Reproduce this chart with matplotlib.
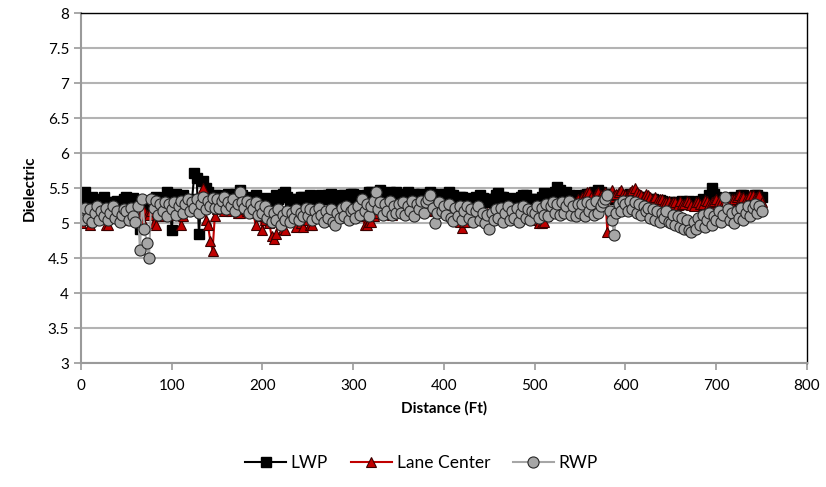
import numpy as np
import matplotlib
matplotlib.use("Agg")
import matplotlib.pyplot as plt
from matplotlib.ticker import FormatStrFormatter

plt.rcParams['font.family'] = ['Lato', 'DejaVu Sans']

# readings every 2.5 ft, 0 .. 750 ft
dist = np.arange(0, 752.5, 2.5)

lwp = [5.40, 5.32, 5.45, 5.28, 5.30, 5.38, 5.35, 5.25, 5.25, 5.33, 5.38, 5.28, 5.30, 5.20, 5.22, 5.30, 5.32, 5.26, 5.28, 5.35,
       5.38, 5.30, 5.30, 5.36, 5.20, 5.28, 4.92, 5.30, 5.25, 5.32, 5.30, 5.25, 5.35, 5.38, 5.28, 5.22, 5.30, 5.35, 5.45, 5.38,
       4.90, 5.30, 5.42, 5.35, 5.35, 5.40, 5.30, 5.28, 5.28, 5.35, 5.72, 5.65, 4.85, 5.30, 5.60, 5.50, 5.45, 5.38, 5.30, 5.40,
       5.40, 5.32, 5.35, 5.30, 5.38, 5.42, 5.30, 5.35, 5.42, 5.38, 5.48, 5.40, 5.30, 5.35, 5.38, 5.32, 5.32, 5.40, 5.35, 5.30,
       5.30, 5.36, 5.25, 5.32, 5.35, 5.30, 5.40, 5.35, 5.38, 5.42, 5.45, 5.38, 5.30, 5.35, 5.35, 5.30, 5.32, 5.38, 5.38, 5.34,
       5.35, 5.40, 5.38, 5.32, 5.30, 5.36, 5.40, 5.35, 5.35, 5.40, 5.42, 5.36, 5.38, 5.32, 5.35, 5.40, 5.40, 5.34, 5.38, 5.42,
       5.42, 5.36, 5.35, 5.40, 5.38, 5.35, 5.40, 5.44, 5.45, 5.38, 5.40, 5.42, 5.47, 5.40, 5.42, 5.38, 5.45, 5.40, 5.40, 5.44,
       5.38, 5.35, 5.42, 5.40, 5.45, 5.38, 5.40, 5.42, 5.38, 5.35, 5.42, 5.40, 5.40, 5.36, 5.45, 5.42, 5.38, 5.40, 5.35, 5.38,
       5.42, 5.38, 5.45, 5.40, 5.40, 5.35, 5.35, 5.38, 5.38, 5.34, 5.32, 5.36, 5.35, 5.30, 5.38, 5.35, 5.40, 5.36, 5.35, 5.32,
       5.30, 5.34, 5.35, 5.40, 5.43, 5.38, 5.38, 5.32, 5.32, 5.36, 5.35, 5.30, 5.30, 5.35, 5.38, 5.40, 5.40, 5.34, 5.35, 5.32,
       5.30, 5.34, 5.35, 5.38, 5.43, 5.38, 5.40, 5.36, 5.42, 5.45, 5.52, 5.48, 5.40, 5.38, 5.45, 5.40, 5.38, 5.35, 5.35, 5.40,
       5.38, 5.35, 5.40, 5.42, 5.42, 5.38, 5.45, 5.40, 5.48, 5.44, 5.40, 5.42, 5.42, 5.38, 5.38, 5.35, 5.35, 5.38, 5.40, 5.36,
       5.38, 5.40, 5.42, 5.38, 5.40, 5.36, 5.35, 5.38, 5.38, 5.34, 5.32, 5.35, 5.35, 5.30, 5.30, 5.33, 5.32, 5.28, 5.28, 5.30,
       5.30, 5.26, 5.25, 5.30, 5.28, 5.32, 5.30, 5.28, 5.32, 5.30, 5.30, 5.26, 5.28, 5.32, 5.35, 5.30, 5.30, 5.40, 5.50, 5.42,
       5.38, 5.34, 5.35, 5.30, 5.30, 5.35, 5.32, 5.36, 5.38, 5.35, 5.35, 5.40, 5.40, 5.36, 5.38, 5.35, 5.35, 5.40, 5.40, 5.38,
       5.38]

lane = [5.00, 5.10, 5.15, 5.05, 4.98, 5.12, 5.10, 5.20, 5.20, 5.08, 5.12, 4.98, 4.98, 5.10, 5.15, 5.22, 5.22, 5.15, 5.10, 5.05,
        5.15, 5.08, 5.05, 5.12, 5.20, 5.15, 5.10, 5.05, 5.18, 5.12, 5.12, 5.18, 5.00, 4.98, 5.15, 5.10, 5.20, 5.15, 5.25, 5.20,
        5.18, 5.12, 5.22, 5.15, 4.98, 5.10, 5.25, 5.20, 5.30, 5.22, 5.20, 5.30, 5.30, 5.25, 5.50, 5.05, 4.97, 4.75, 4.61, 5.10,
        5.20, 5.25, 5.25, 5.18, 5.22, 5.20, 5.18, 5.25, 5.20, 5.15, 5.15, 5.22, 5.20, 5.18, 5.25, 5.20, 5.15, 4.97, 5.15, 5.10,
        4.90, 5.05, 5.10, 5.00, 4.82, 4.78, 4.85, 5.05, 5.05, 4.92, 4.90, 5.10, 5.15, 5.05, 5.08, 4.95, 5.12, 5.00, 4.95, 5.08,
        5.05, 4.97, 4.97, 5.08, 5.10, 5.15, 5.15, 5.10, 5.12, 5.18, 5.18, 5.12, 5.10, 5.15, 5.15, 5.20, 5.20, 5.15, 5.12, 5.10,
        5.15, 5.10, 5.10, 5.15, 5.12, 4.98, 4.98, 5.02, 5.02, 5.10, 5.15, 5.20, 5.20, 5.15, 5.18, 5.20, 5.15, 5.12, 5.20, 5.18,
        5.18, 5.22, 5.22, 5.18, 5.20, 5.15, 5.15, 5.20, 5.18, 5.22, 5.22, 5.25, 5.25, 5.20, 5.20, 5.18, 5.18, 5.22, 5.22, 5.20,
        5.20, 5.18, 5.15, 5.18, 5.18, 5.12, 5.12, 5.02, 4.93, 5.02, 5.02, 5.08, 5.10, 5.05, 5.05, 5.12, 5.15, 5.10, 5.12, 5.15,
        5.15, 5.12, 5.10, 5.15, 5.12, 5.18, 5.18, 5.15, 5.15, 5.10, 5.10, 5.12, 5.12, 5.15, 5.15, 5.20, 5.20, 5.18, 5.18, 5.15,
        5.15, 5.05, 5.00, 5.00, 5.02, 5.10, 5.15, 5.18, 5.20, 5.22, 5.25, 5.22, 5.22, 5.25, 5.25, 5.28, 5.28, 5.30, 5.30, 5.35,
        5.32, 5.38, 5.40, 5.45, 5.45, 5.38, 5.35, 5.42, 5.45, 5.40, 5.40, 5.45, 4.88, 5.38, 5.48, 5.40, 5.42, 5.45, 5.48, 5.42,
        5.40, 5.42, 5.45, 5.48, 5.50, 5.45, 5.42, 5.40, 5.38, 5.42, 5.40, 5.38, 5.35, 5.38, 5.32, 5.35, 5.35, 5.30, 5.30, 5.32,
        5.28, 5.30, 5.30, 5.26, 5.32, 5.28, 5.28, 5.32, 5.30, 5.26, 5.25, 5.30, 5.30, 5.28, 5.28, 5.33, 5.32, 5.28, 5.30, 5.32,
        5.35, 5.32, 5.30, 5.28, 5.28, 5.32, 5.32, 5.35, 5.35, 5.38, 5.40, 5.36, 5.38, 5.35, 5.35, 5.40, 5.40, 5.36, 5.38, 5.40,
        5.30]

rwp = [5.15, 5.05, 5.22, 5.08, 5.20, 5.02, 5.15, 5.25, 5.05, 5.18, 5.10, 5.22, 5.05, 5.15, 5.25, 5.08, 5.18, 5.02, 5.12, 5.20,
       5.18, 5.05, 5.22, 5.10, 5.02, 5.25, 4.62, 5.35, 4.92, 4.72, 4.50, 5.35, 5.22, 5.32, 5.12, 5.28, 5.18, 5.30, 5.10, 5.28,
       5.20, 5.30, 5.12, 5.25, 5.32, 5.15, 5.28, 5.35, 5.18, 5.30, 5.22, 5.35, 5.15, 5.28, 5.38, 5.20, 5.32, 5.25, 5.36, 5.22,
       5.35, 5.22, 5.32, 5.38, 5.20, 5.30, 5.25, 5.35, 5.18, 5.28, 5.45, 5.30, 5.22, 5.32, 5.15, 5.28, 5.20, 5.30, 5.12, 5.25,
       5.15, 5.25, 5.08, 5.18, 5.02, 5.15, 5.05, 5.20, 4.98, 5.12, 5.05, 5.18, 5.02, 5.15, 5.08, 5.20, 5.05, 5.15, 5.10, 5.22,
       5.10, 5.20, 5.05, 5.18, 5.08, 5.22, 5.12, 5.02, 5.18, 5.08, 5.20, 5.02, 4.98, 5.15, 5.08, 5.22, 5.10, 5.25, 5.05, 5.18,
       5.20, 5.08, 5.25, 5.12, 5.35, 5.18, 5.28, 5.10, 5.25, 5.32, 5.45, 5.20, 5.30, 5.12, 5.28, 5.18, 5.32, 5.12, 5.25, 5.15,
       5.28, 5.15, 5.30, 5.12, 5.25, 5.18, 5.32, 5.10, 5.28, 5.20, 5.32, 5.15, 5.30, 5.35, 5.40, 5.22, 5.00, 5.15, 5.30, 5.18,
       5.25, 5.12, 5.28, 5.08, 5.03, 5.22, 5.10, 5.25, 5.05, 5.18, 5.25, 5.08, 5.20, 5.02, 5.18, 5.25, 5.05, 5.15, 5.00, 5.12,
       4.92, 5.15, 5.05, 5.20, 5.08, 5.22, 5.02, 5.15, 5.25, 5.05, 5.18, 5.08, 5.22, 5.02, 5.15, 5.25, 5.08, 5.20, 5.05, 5.18,
       5.15, 5.25, 5.08, 5.22, 5.12, 5.28, 5.10, 5.25, 5.30, 5.15, 5.28, 5.12, 5.30, 5.15, 5.25, 5.32, 5.12, 5.25, 5.10, 5.28,
       5.15, 5.28, 5.10, 5.30, 5.18, 5.28, 5.12, 5.32, 5.15, 5.25, 5.30, 5.35, 5.40, 5.18, 5.05, 4.83, 5.15, 5.28, 5.18, 5.32,
       5.28, 5.18, 5.32, 5.20, 5.30, 5.15, 5.28, 5.12, 5.25, 5.18, 5.22, 5.08, 5.20, 5.05, 5.18, 5.02, 5.15, 5.08, 5.18, 5.02,
       5.00, 5.12, 4.98, 5.10, 4.95, 5.08, 4.92, 5.05, 4.90, 4.88, 5.02, 4.92, 5.08, 4.98, 5.12, 4.95, 5.05, 5.15, 4.98, 5.10,
       5.05, 5.18, 5.02, 5.12, 5.38, 5.20, 5.05, 5.15, 5.00, 5.18, 5.08, 5.22, 5.05, 5.15, 5.25, 5.10, 5.22, 5.28, 5.15, 5.25,
       5.18]

assert len(lwp) == len(lane) == len(rwp) == len(dist), (len(lwp), len(lane), len(rwp))

fig = plt.figure(figsize=(8.26, 4.87), dpi=100)
ax = fig.add_axes([0.098, 0.254, 0.879, 0.719])

ax.plot(dist, lwp, color='black', lw=1.5, marker='s', ms=7.2,
        mfc='black', mec='black', label='LWP')
ax.plot(dist, lane, color='#c00000', lw=1.5, marker='^', ms=7.8,
        mfc='#c00000', mec='#3a0000', mew=0.8, label='Lane Center')
ax.plot(dist, rwp, color='#a6a6a6', lw=1.5, marker='o', ms=8,
        mfc='#a6a6a6', mec='#262626', mew=0.8, label='RWP')

ax.set_xlim(0, 800)
ax.set_ylim(3, 8)
ax.set_xticks(np.arange(0, 801, 100))
ax.set_yticks(np.arange(3, 8.01, 0.5))
ax.yaxis.set_major_formatter(FormatStrFormatter('%g'))
ax.grid(axis='y', color='#b3b3b3', lw=1.5)
ax.set_axisbelow(True)

for s in ['top', 'right']:
    ax.spines[s].set_color('black')
    ax.spines[s].set_linewidth(1.0)
for s in ['left', 'bottom']:
    ax.spines[s].set_color('#9a9a9a')
    ax.spines[s].set_linewidth(1.5)
ax.tick_params(axis='both', colors='#9a9a9a', length=5, width=1.2,
               labelcolor='black', labelsize=11)
ax.tick_params(axis='x', pad=6)

ax.set_xlabel('Distance (Ft)', fontsize=11, fontweight='bold', labelpad=6)
ax.set_ylabel('Dielectric', fontsize=11, fontweight='bold', labelpad=8)

fig.legend(loc='center', bbox_to_anchor=(0.51, 0.05), ncol=3,
           frameon=False, fontsize=12.5, handlelength=2.4,
           columnspacing=1.3, handletextpad=0.25)

fig.savefig('out.png', dpi=100)
